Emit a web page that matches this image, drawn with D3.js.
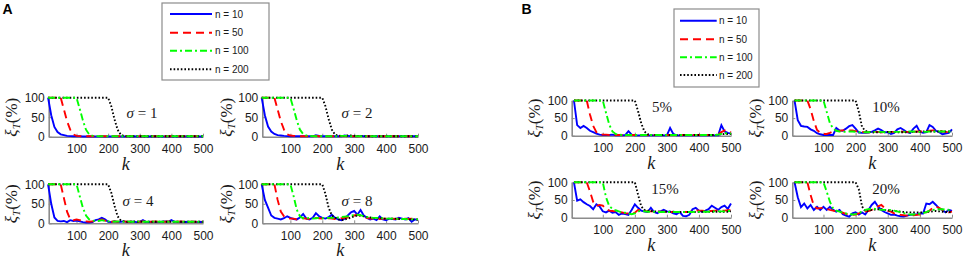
<!DOCTYPE html>
<html>
<head>
<meta charset="utf-8">
<script src="https://cdn.jsdelivr.net/npm/d3@7"></script>
<style>
  body { margin: 0; background: #fff; }
  svg { display: block; }
</style>
</head>
<body>
<div id="viz"></div>
<script>
// ===== DATA =====
const kValues = [10,20,30,40,50,60,70,80,90,100,110,120,130,140,150,160,170,180,190,200,
  210,220,230,240,250,260,270,280,290,300,310,320,330,340,350,360,370,380,390,400,
  410,420,430,440,450,460,470,480,490,500];
const seriesNames = ['n = 10', 'n = 50', 'n = 100', 'n = 200'];
const xTicks = [100, 200, 300, 400, 500];
const yTicks = [0, 50, 100];
const sigmaLabels = ['1', '2', '4', '8'];
const noiseLabels = ['5%', '10%', '15%', '20%'];

// panel A, sigma = 1
const a1n10 = [100,55,25,12,6,4,2,1.5,1,1, 1,0.5,0.5,1,0.5,0.5,0.5,1,0.5,0.5, 0.5,0.5,1,0.5,0.5,0.5,0.5,1,0.5,0.5, 0.5,0.5,0.5,1,0.5,0.5,0.5,0.5,0.5,1, 0.5,0.5,0.5,0.5,1,0.5,0.5,0.5,0.5,0.5];
const a1n50 = [100,100,100,100,100,70,40,18,6,2, 1.5,1,1,1,1,1,1,1,1,1, 1,1,1,1,1,1,1,1,1,1, 1,1,1,1,1,1,1,1,1,1, 1,1,1,1,1,1,1,1,1,1];
const a1n100 = [100,100,100,100,100,100,100,100,100,100, 72,42,18,6,2.5,1.5,1,1,1,1, 1,1,1,1,1,1,1,1,1,1, 1,1,1,1,1,1,1,1,1,1, 1,1,1,1,1,1,1,1,1,1];
const a1n200 = [100,100,100,100,100,100,100,100,100,100, 100,100,100,100,100,100,100,100,100,100, 78,45,18,5,2,1,1,1,1,1, 1,1,1,1,1,1,1,1,1,1, 1,1,1,1,1,1,1,1,1,1];

// panel A, sigma = 2
const a2n10 = [100,55,26,13,7,4,3,2,1.5,1, 1,1,1,1,1,1,1,4,2,1, 1,1,1,1,1,1,3,2,1,1, 1,2,1,1,1,1,1,1,1,1, 1,1,1,1,1,1,1,1,1,1];
const a2n50 = [100,100,100,100,100,70,40,18,6,3, 2,2,1,1,1,1,1,2,1,1, 1,1,1,1,1,2,2,1,1,1, 1,1,1,1,1,1,1,1,1,1, 1,1,1,1,1,1,1,1,1,1];
const a2n100 = [100,100,100,100,100,100,100,100,100,100, 72,42,18,7,3,2,1.5,1,2,1, 1,1,1,1,1,2,2,2,1,1, 1,1,1,1,1,1,1,1,1,1, 1,1,1,1,1,1,1,1,1,1];
const a2n200 = [100,100,100,100,100,100,100,100,100,100, 100,100,100,100,100,100,100,100,100,100, 78,45,18,5,3,2,2,3,3,2, 2,2,2,1,1,1,1,1,1,1, 1,1,1,1,1,1,1,1,1,1];

// panel A, sigma = 4
const a4n10 = [100,50,15,6,5,6,3,8,6,7, 5,3,2,2,3,8,10,14,10,4, 3,5,3,4,5,3,4,4,3,4, 8,3,4,3,4,3,4,5,4,8, 4,3,4,3,4,3,4,3,4,3];
const a4n50 = [100,100,100,100,100,65,30,10,8,10, 8,6,5,4,5,6,8,10,7,5, 4,5,4,4,5,4,4,5,4,4, 5,4,4,4,5,4,4,4,5,4, 4,4,5,4,4,4,4,4,4,4];
const a4n100 = [100,100,100,100,100,100,100,100,100,100, 70,40,20,10,7,6,6,8,6,5, 5,4,5,4,4,5,4,4,4,5, 4,4,4,4,5,4,4,4,4,4, 4,4,4,4,4,4,4,4,4,4];
const a4n200 = [100,100,100,100,100,100,100,100,100,100, 100,100,100,100,100,100,100,100,100,100, 78,45,18,7,5,4,4,5,4,4, 4,4,4,4,4,4,4,4,4,4, 4,4,4,4,4,4,4,4,4,4];

// panel A, sigma = 8
const a8n10 = [100,60,40,20,14,12,10,13,18,14, 11,10,15,24,12,10,14,26,18,14, 12,16,22,14,10,8,12,20,28,32, 22,34,20,14,10,12,8,18,10,8, 12,11,10,14,12,10,13,4,10,8];
const a8n50 = [100,100,100,100,100,60,30,18,14,12, 12,10,12,13,12,11,12,14,13,12, 12,13,12,11,12,13,14,15,18,20, 22,20,16,14,12,12,12,11,12,12, 12,12,11,12,12,12,11,12,10,9];
const a8n100 = [100,100,100,100,100,100,100,100,100,100, 70,35,18,13,12,14,12,13,14,13, 13,14,14,14,15,16,17,18,20,21, 22,21,18,16,15,14,14,13,13,12, 12,12,12,11,11,11,10,10,10,10];
const a8n200 = [100,100,100,100,100,100,100,100,100,100, 100,100,100,100,100,100,100,100,100,100, 75,40,20,15,10,8,10,12,15,18, 20,20,18,16,15,14,13,13,12,12, 12,12,12,11,11,11,10,10,10,10];

// panel B, 5 %
const b5n10 = [100,30,22,28,22,14,10,6,3,2, 2,2,3,1,1,1,2,13,3,1, 1,1,1,1,1,1,1,1,1,1, 22,5,1,1,1,1,1,1,1,1, 1,1,1,1,1,1,30,12,8,6];
const b5n50 = [100,100,100,100,100,60,28,10,4,3, 3,2,2,2,2,2,2,2,2,2, 2,2,2,2,2,2,2,2,2,2, 2,2,2,2,2,2,2,2,2,2, 2,2,2,2,2,4,10,15,14,10];
const b5n100 = [100,100,100,100,100,100,100,100,100,100, 65,32,12,5,3,2,2,2,2,2, 2,2,2,2,2,2,2,2,2,2, 2,2,2,2,2,2,2,2,2,2, 2,2,2,2,2,3,5,7,7,6];
const b5n200 = [100,100,100,100,100,100,100,100,100,100, 100,100,100,100,100,100,100,100,100,100, 70,35,12,4,2,2,2,2,2,2, 2,2,2,2,2,2,2,2,2,2, 2,2,2,2,2,3,4,5,5,5];

// panel B, 10 %
const b10n10 = [100,44,28,26,25,18,14,7,4,2, 2,2,2,22,15,14,20,27,30,20, 9,8,8,9,11,15,20,16,10,10, 5,8,18,22,16,10,8,20,28,11, 8,10,30,25,14,10,4,6,8,18];
const b10n50 = [100,100,100,100,100,75,42,16,8,5, 5,8,12,13,14,15,16,15,15,13, 12,11,10,10,10,11,11,10,10,10, 11,11,12,12,11,11,10,11,12,12, 12,13,14,15,15,14,12,11,10,10];
const b10n100 = [100,100,100,100,100,100,100,100,100,100, 68,36,20,14,12,11,11,12,12,11, 10,10,10,10,11,11,11,11,10,10, 10,11,11,11,11,12,12,12,11,11, 11,11,12,12,12,12,12,12,12,12];
const b10n200 = [100,100,100,100,100,100,100,100,100,100, 100,100,100,100,100,100,100,100,100,100, 68,25,14,11,10,9,10,10,11,11, 11,11,10,10,10,10,10,11,11,12, 12,12,12,12,12,12,12,12,12,12];

// panel B, 15 %
const b15n10 = [100,48,52,44,38,33,24,38,32,18, 15,20,14,16,8,12,10,8,22,38, 28,20,17,16,28,16,13,18,22,18, 17,12,10,16,5,4,8,24,28,20, 17,20,24,34,28,22,30,34,25,40];
const b15n50 = [100,100,100,100,100,74,45,33,36,34, 24,20,19,18,16,15,13,12,10,14, 22,21,19,18,18,17,17,17,17,17, 16,16,16,16,16,16,16,18,21,20, 20,19,19,19,20,20,20,20,21,21];
const b15n100 = [100,100,100,100,100,100,100,100,100,100, 58,33,25,21,18,15,14,12,10,12, 18,19,18,17,17,17,16,16,16,16, 16,16,16,16,16,16,16,16,17,17, 17,17,17,17,18,18,18,18,19,19];
const b15n200 = [100,100,100,100,100,100,100,100,100,100, 100,100,100,100,100,100,100,100,100,100, 65,32,22,20,19,18,18,17,17,17, 17,17,16,16,16,16,16,16,16,16, 17,17,17,17,17,17,17,17,17,18];

// panel B, 20 %
const b20n10 = [100,58,30,40,26,36,22,31,22,31, 22,31,22,17,22,10,6,3,12,15, 9,15,9,22,36,45,31,22,16,12, 8,9,6,4,3,6,8,9,9,12, 12,40,38,45,36,26,22,15,22,19];
const b20n50 = [100,100,100,100,100,64,34,26,27,28, 25,22,20,18,17,14,11,8,8,9, 12,15,17,19,22,27,32,36,28,20, 17,12,9,8,7,6,6,7,8,9, 12,15,20,28,31,28,22,18,15,17];
const b20n100 = [100,100,100,100,100,100,100,100,100,100, 74,45,26,20,17,14,12,10,9,10, 13,18,22,24,26,25,23,22,22,22, 22,20,18,15,13,11,9,9,10,11, 13,16,20,22,23,24,24,23,22,22];
const b20n200 = [100,100,100,100,100,100,100,100,100,100, 100,100,100,100,100,100,100,100,100,100, 80,32,18,20,22,23,24,24,22,21, 20,19,18,17,16,15,15,15,15,15, 15,16,17,18,19,18,17,16,16,15];

// ===== STYLE =====
const width = 964;
const height = 260;
const colors = ['#0000ff', '#ff0000', '#00ff00', '#000000'];
const dashes = [null, '8,5', '7,3,2,3', '1.6,2'];
const drawOrder = [0, 1, 3, 2];
const axisColor = '#8c8c8c';
const sansFont = '"Liberation Sans", Arial, sans-serif';
const serifFont = '"Liberation Serif", "Times New Roman", serif';

const svg = d3.select('#viz').append('svg')
  .attr('width', width)
  .attr('height', height);

// subplot boxes: left, right, top (y=100), bottom (y=0)
const subplots = [
  {series: [a1n10, a1n50, a1n100, a1n200], x0: 48.7, x1: 203, y0: 97.7, y1: 136.7, kStart: 12, ylab: 11, tag: 'sigma', text: sigmaLabels[0], tx: 142, ty: 113},
  {series: [a2n10, a2n50, a2n100, a2n200], x0: 262.3, x1: 418, y0: 97.7, y1: 136.7, kStart: 12, ylab: 226, tag: 'sigma', text: sigmaLabels[1], tx: 357, ty: 113},
  {series: [a4n10, a4n50, a4n100, a4n200], x0: 48.7, x1: 203, y0: 184.3, y1: 223.3, kStart: 12, ylab: 11, tag: 'sigma', text: sigmaLabels[2], tx: 138, ty: 201},
  {series: [a8n10, a8n50, a8n100, a8n200], x0: 262.3, x1: 418, y0: 184.3, y1: 223.3, kStart: 12, ylab: 226, tag: 'sigma', text: sigmaLabels[3], tx: 357, ty: 201},
  {series: [b5n10, b5n50, b5n100, b5n200], x0: 571.7, x1: 731, y0: 100.5, y1: 135.7, kStart: 3, ylab: 534, tag: 'noise', text: noiseLabels[0], tx: 662, ty: 107},
  {series: [b10n10, b10n50, b10n100, b10n200], x0: 792.3, x1: 952, y0: 100.5, y1: 135.7, kStart: 3, ylab: 755, tag: 'noise', text: noiseLabels[1], tx: 886, ty: 107},
  {series: [b15n10, b15n50, b15n100, b15n200], x0: 571.7, x1: 731, y0: 182.3, y1: 217.7, kStart: 3, ylab: 534, tag: 'noise', text: noiseLabels[2], tx: 665, ty: 189},
  {series: [b20n10, b20n50, b20n100, b20n200], x0: 792.3, x1: 952, y0: 182.3, y1: 217.7, kStart: 3, ylab: 755, tag: 'noise', text: noiseLabels[3], tx: 886, ty: 189}
];

function drawSubplot(sp) {
  const g = svg.append('g');
  const xScale = d3.scaleLinear().domain([sp.kStart, 500]).range([sp.x0, sp.x1]);
  const yScale = d3.scaleLinear().domain([0, 100]).range([sp.y1, sp.y0]);

  // axes first, lines on top
  const xAxis = g.append('g')
    .attr('transform', `translate(0,${sp.y1})`)
    .call(d3.axisBottom(xScale).tickValues(xTicks).tickSizeInner(-3).tickSizeOuter(0).tickPadding(8));
  const yAxis = g.append('g')
    .attr('transform', `translate(${sp.x0},0)`)
    .call(d3.axisLeft(yScale).tickValues(yTicks).tickSizeInner(-3).tickSizeOuter(0).tickPadding(4));
  [xAxis, yAxis].forEach(ax => {
    ax.select('.domain').attr('stroke', axisColor).attr('stroke-width', 1.6);
    ax.selectAll('.tick line').attr('stroke', axisColor).attr('stroke-width', 1);
    ax.selectAll('.tick text')
      .attr('fill', '#1a1a1a')
      .style('font-family', sansFont)
      .style('font-size', '12px');
  });

  const line = d3.line()
    .x((d, i) => xScale(kValues[i]))
    .y(d => yScale(d));

  drawOrder.forEach(s => {
    g.append('path')
      .datum(sp.series[s])
      .attr('fill', 'none')
      .attr('stroke', colors[s])
      .attr('stroke-width', 1.9)
      .attr('stroke-dasharray', dashes[s])
      .attr('d', line);
  });

  // y label  xi_T (%)
  const ymid = (sp.y0 + sp.y1) / 2;
  const yl = g.append('text')
    .attr('transform', `translate(${sp.ylab},${ymid}) rotate(-90)`)
    .attr('text-anchor', 'middle')
    .attr('dy', '0.35em')
    .style('font-family', serifFont)
    .style('font-size', '17px')
    .attr('fill', '#1a1a1a');
  yl.append('tspan').style('font-style', 'italic').text('ξ');
  yl.append('tspan').style('font-style', 'italic').style('font-size', '11px').attr('dy', '3').text('T');
  yl.append('tspan').attr('dy', '-3').text('(%)');

  // x label k
  g.append('text')
    .attr('x', (sp.x0 + sp.x1) / 2)
    .attr('y', sp.y1 + 33)
    .attr('text-anchor', 'middle')
    .style('font-family', serifFont)
    .style('font-style', 'italic')
    .style('font-size', '18px')
    .attr('fill', '#1a1a1a')
    .text('k');

  // in-plot annotation
  const ann = g.append('text')
    .attr('x', sp.tx)
    .attr('y', sp.ty)
    .attr('dy', '0.35em')
    .attr('text-anchor', 'middle')
    .style('font-family', serifFont)
    .style('font-size', '15px')
    .attr('fill', '#1a1a1a');
  if (sp.tag === 'sigma') {
    ann.append('tspan').style('font-style', 'italic').text('σ');
    ann.append('tspan').text(' = ' + sp.text);
  } else {
    ann.text(sp.text);
  }
}

subplots.forEach(drawSubplot);

// ===== LEGENDS =====
function drawLegend(box) {
  const g = svg.append('g');
  g.append('rect')
    .attr('x', box.x).attr('y', box.y)
    .attr('width', box.w).attr('height', box.h)
    .attr('fill', '#fff')
    .attr('stroke', '#8c8c8c')
    .attr('stroke-width', 1.2);
  seriesNames.forEach((name, i) => {
    const yy = box.rows[i];
    g.append('line')
      .attr('x1', box.l0).attr('x2', box.l1)
      .attr('y1', yy).attr('y2', yy)
      .attr('stroke', colors[i])
      .attr('stroke-width', 1.9)
      .attr('stroke-dasharray', dashes[i]);
    g.append('text')
      .attr('x', box.tx).attr('y', yy)
      .attr('dy', '0.35em')
      .style('font-family', sansFont)
      .style('font-size', '10px')
      .attr('fill', '#1a1a1a')
      .text(name);
  });
}

drawLegend({x: 162, y: 3, w: 107, h: 77, l0: 170, l1: 212, tx: 215, rows: [14, 32.7, 50.7, 69.3]});
drawLegend({x: 674, y: 9, w: 85, h: 78, l0: 680, l1: 716.7, tx: 719, rows: [20.7, 39.3, 57.3, 75]});

// panel letters
[['A', 2.5], ['B', 521.5]].forEach(([t, x]) => {
  svg.append('text')
    .attr('x', x).attr('y', 14)
    .style('font-family', sansFont)
    .style('font-weight', 'bold')
    .style('font-size', '14px')
    .attr('fill', '#000')
    .text(t);
});
</script>
</body>
</html>
